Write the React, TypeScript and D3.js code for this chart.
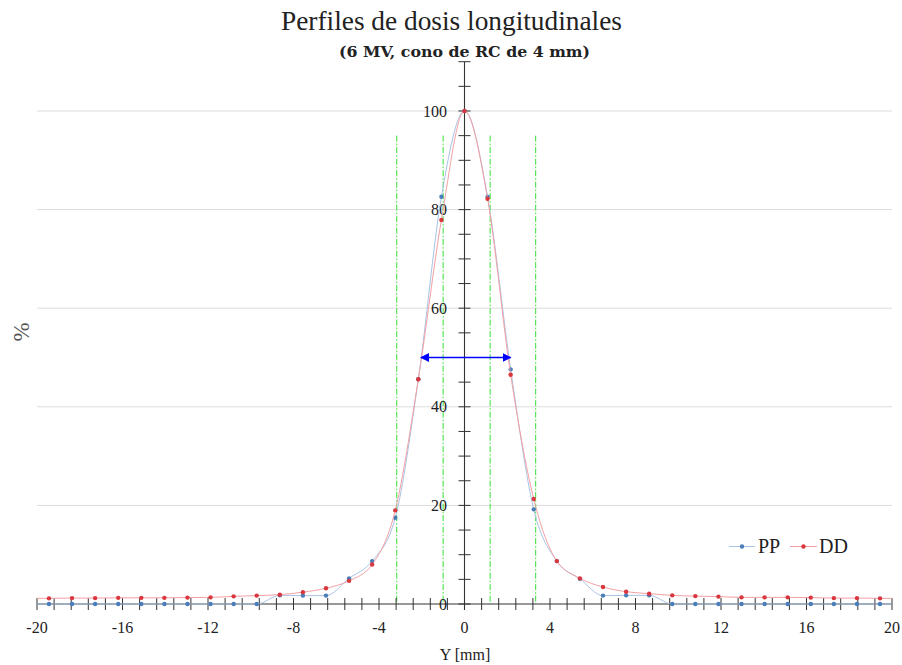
import React from "react";
import * as d3 from "d3";

// Positions along Y (mm) of measured points
const positions = [
  -19.44, -18.36, -17.28, -16.2, -15.12, -14.04, -12.96, -11.88, -10.8, -9.72,
  -8.64, -7.56, -6.48, -5.4, -4.32, -3.24, -2.16, -1.08, 0, 1.08, 2.16, 3.24,
  4.32, 5.4, 6.48, 7.56, 8.64, 9.72, 10.8, 11.88, 12.96, 14.04, 15.12, 16.2,
  17.28, 18.36, 19.44,
];
const ppValues = [
  0, 0, 0, 0, 0, 0, 0, 0, 0, 0, 1.75, 1.7, 1.7, 5.2, 8.7, 17.5, 45.6, 82.6, 100,
  82.6, 47.6, 19.2, 8.7, 5.1, 1.7, 1.75, 1.75, 0, 0, 0, 0, 0, 0, 0, 0, 0, 0,
];
const ddValues = [
  1.15, 1.2, 1.2, 1.25, 1.25, 1.25, 1.3, 1.35, 1.55, 1.7, 1.9, 2.4, 3.2, 4.7, 8.0,
  19.0, 45.6, 77.9, 100, 82.2, 46.5, 21.3, 8.7, 5.2, 3.45, 2.5, 2.1, 1.75, 1.6,
  1.5, 1.35, 1.35, 1.35, 1.3, 1.2, 1.2, 1.15,
];
const xMajorTicks = [-20, -16, -12, -8, -4, 0, 4, 8, 12, 16, 20];
const xMinorStep = 0.8;
const yMajorTicks = [0, 20, 40, 60, 80, 100];
const yMinorStep = 5;
const yAxisMax = 110;
const greenLines = [-3.17, -1.0, 1.2, 3.33];
const greenTop = 95;
const fwhm = { from: -2.04, to: 2.16, level: 50 };
const xDomain = [-20, 20];

const title = "Perfiles de dosis longitudinales";
const subtitle = "(6 MV, cono de RC de 4 mm)";
const xLabel = "Y [mm]";
const yLabel = "%";

const series = [
  { name: "PP", values: ppValues, point: "#4a7ebb", line: "#a9c3e4" },
  { name: "DD", values: ddValues, point: "#d9363e", line: "#f3a0a3" },
];

const W = 902;
const H = 665;
const serif = "'Liberation Serif', 'DejaVu Serif', serif";

export default function App() {
  const x = d3.scaleLinear().domain(xDomain).range([37, 892]);
  const y = d3.scaleLinear().domain([0, 100]).range([604, 111]);

  const xMinor = d3.range(xDomain[0], xDomain[1] + 0.001, xMinorStep);
  const yMinor = d3.range(0, yAxisMax + 0.001, yMinorStep);

  const line = d3
    .line<[number, number]>()
    .x((d) => x(d[0]))
    .y((d) => y(d[1]))
    .curve(d3.curveMonotoneX);

  const lineData = (vals: number[]): [number, number][] => {
    const pts: [number, number][] = positions.map((p, i) => [p, vals[i]]);
    return [[xDomain[0], vals[0]], ...pts, [xDomain[1], vals[vals.length - 1]]];
  };

  const x0 = x(0);
  const yBase = y(0);

  return (
    <svg
      width={W}
      height={H}
      style={{ position: "absolute", left: 0, top: 0, background: "#fff" }}
      fontFamily={serif}
    >
      <defs>
        <marker
          id="arrow"
          viewBox="0 0 10 10"
          refX="9"
          refY="5"
          markerWidth="9"
          markerHeight="9"
          markerUnits="userSpaceOnUse"
          orient="auto-start-reverse"
        >
          <path d="M0,0 L10,5 L0,10 z" fill="#0000ff" />
        </marker>
      </defs>
      <rect width={W} height={H} fill="#fff" />

      {/* grid */}
      {yMajorTicks
        .filter((t) => t > 0)
        .map((t) => (
          <line
            key={"g" + t}
            x1={x(xDomain[0])}
            x2={x(xDomain[1])}
            y1={y(t)}
            y2={y(t)}
            stroke="#dcdcdc"
            strokeWidth={1}
          />
        ))}

      {/* title */}
      <text
        x={451.5}
        y={30}
        textAnchor="middle"
        fontSize={28}
        fill="#222"
        textLength={341}
        lengthAdjust="spacingAndGlyphs"
      >
        {title}
      </text>
      <text
        x={464.5}
        y={57}
        textAnchor="middle"
        fontSize={15}
        fontWeight="bold"
        fill="#222"
        fontFamily="'DejaVu Serif', serif"
        textLength={251}
        lengthAdjust="spacingAndGlyphs"
      >
        {subtitle}
      </text>

      {/* green vertical lines */}
      {greenLines.map((g) => (
        <line
          key={"gl" + g}
          x1={x(g)}
          x2={x(g)}
          y1={y(greenTop)}
          y2={y(0)}
          stroke="#33e033"
          strokeWidth={1}
          strokeDasharray="6,2,1.5,2"
        />
      ))}

      {/* x axis */}
      <line x1={x(xDomain[0])} x2={x(xDomain[1])} y1={yBase} y2={yBase} stroke="#333" strokeWidth={1.1} />
      {xMinor.map((t) => (
        <line key={"xt" + t} x1={x(t)} x2={x(t)} y1={yBase - 6} y2={yBase + 6} stroke="#333" strokeWidth={1} />
      ))}
      {xMajorTicks.map((t) => (
        <text key={"xl" + t} x={x(t)} y={633} textAnchor="middle" fontSize={16} fill="#222">
          {t < 0 ? "-" + Math.abs(t) : String(t)}
        </text>
      ))}
      <text x={465} y={660} textAnchor="middle" fontSize={16} fill="#222">
        {xLabel}
      </text>

      {/* y axis */}
      <line x1={x0} x2={x0} y1={y(yAxisMax)} y2={yBase + 6} stroke="#333" strokeWidth={1.1} />
      {yMinor.map((t) => (
        <line key={"yt" + t} x1={x0 - 6} x2={x0 + 6} y1={y(t)} y2={y(t)} stroke="#333" strokeWidth={1} />
      ))}
      {yMajorTicks.map((t) => (
        <text key={"yl" + t} x={447} y={y(t) + 5.5} textAnchor="end" fontSize={16} fill="#222">
          {t}
        </text>
      ))}
      <text
        transform={`translate(29,332) rotate(-90)`}
        textAnchor="middle"
        fontSize={23}
        fill="#555"
      >
        {yLabel}
      </text>

      {/* series */}
      {series.map((s) => (
        <g key={s.name}>
          <path d={line(lineData(s.values)) || ""} fill="none" stroke={s.line} strokeWidth={1} />
          {positions.map((p, i) => (
            <circle key={i} cx={x(p)} cy={y(s.values[i])} r={2.2} fill={s.point} />
          ))}
        </g>
      ))}

      {/* FWHM arrow */}
      <line
        x1={x(fwhm.from)}
        x2={x(fwhm.to)}
        y1={y(fwhm.level)}
        y2={y(fwhm.level)}
        stroke="#0000ff"
        strokeWidth={1.5}
        markerStart="url(#arrow)"
        markerEnd="url(#arrow)"
      />

      {/* legend */}
      <g>
        <line x1={729} x2={755} y1={546.5} y2={546.5} stroke={series[0].line} strokeWidth={1} />
        <circle cx={742} cy={546.5} r={2.2} fill={series[0].point} />
        <text x={758} y={553} fontSize={20} fill="#222">
          {series[0].name}
        </text>
        <line x1={790} x2={817} y1={546.5} y2={546.5} stroke={series[1].line} strokeWidth={1} />
        <circle cx={803.5} cy={546.5} r={2.2} fill={series[1].point} />
        <text x={819} y={553} fontSize={20} fill="#222">
          {series[1].name}
        </text>
      </g>
    </svg>
  );
}
